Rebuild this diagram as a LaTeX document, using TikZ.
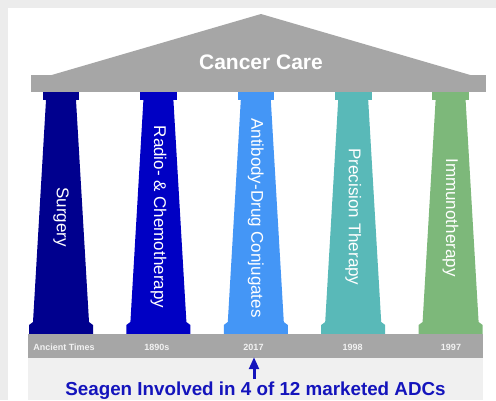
\documentclass[tikz,border=0pt]{standalone}
\usepackage{fontspec}
\setmainfont{Liberation Sans}
\usetikzlibrary{arrows.meta}
\definecolor{pagegrey}{HTML}{ECECEC}
\definecolor{lowgrey}{HTML}{F0F0F0}
\definecolor{stone}{HTML}{A6A6A6}
\definecolor{colA}{HTML}{00008E}
\definecolor{colB}{HTML}{0000C4}
\definecolor{colC}{HTML}{4496F6}
\definecolor{colD}{HTML}{59B9B8}
\definecolor{colE}{HTML}{7DB87A}
\definecolor{datetxt}{HTML}{F2F2F2}
\definecolor{seablue}{HTML}{1414BC}
\tikzset{
  pillarlabel/.style={text=white, rotate=-90, font=\fontsize{17}{17}\selectfont, inner sep=0pt},
  datelabel/.style={text=datetxt, font=\bfseries\fontsize{9}{9}\selectfont, anchor=base, inner sep=0pt},
}
\newcommand{\pillar}[2]{%
  \fill[#2] (#1-18.3,92) rectangle (#1+18.3,100);
  \fill[#2] (#1-15,100) -- (#1+15,100) -- (#1+28,322) -- (#1+32,325) -- (#1+32,334)
    -- (#1-32,334) -- (#1-32,325) -- (#1-28,322) -- cycle;
}
\begin{document}
\begin{tikzpicture}[x=1pt,y=-1pt]
\useasboundingbox (0,0) rectangle (496,400);
\fill[pagegrey] (0,0) rectangle (496,400);
\fill[white] (8,8) rectangle (496,400);
\fill[lowgrey] (28,358) rectangle (483,400);
% roof
\fill[stone] (50,75.5) -- (261,14) -- (472,75.5) -- cycle;
\fill[stone] (31,75) rectangle (486,92);
\node[text=white, font=\bfseries\fontsize{21}{21}\selectfont, anchor=base, inner sep=0pt] (roof) at (261,69) {Cancer Care};
% pillars
\pillar{61}{colA}
\pillar{158.4}{colB}
\pillar{255.8}{colC}
\pillar{353.2}{colD}
\pillar{450.6}{colE}
\node[pillarlabel] (surgery) at (61,217) {Surgery};
\node[pillarlabel] (radio) at (158.4,217) {Radio- \& Chemotherapy};
\node[pillarlabel] (adc) at (255.8,218) {Antibody-Drug Conjugates};
\node[pillarlabel] (precision) at (353.2,217) {Precision Therapy};
\node[pillarlabel] (immuno) at (450.6,217.5) {Immunotherapy};
% date bar
\fill[stone] (28,334) rectangle (483,358);
\coordinate (barbottom) at (254,357);
\node[datelabel] (d1) at (64,350) {Ancient Times};
\node[datelabel] (d2) at (156.8,350) {1890s};
\node[datelabel] (d3) at (253.5,350) {2017};
\node[datelabel] (d4) at (352.7,350) {1998};
\node[datelabel] (d5) at (451,350) {1997};
% bottom text and arrow
\node[text=seablue, font=\bfseries\fontsize{18.8}{18.8}\selectfont, anchor=base, inner sep=0pt] (seagen) at (255.5,395) {Seagen Involved in 4 of 12 marketed ADCs};
\coordinate (arrowtail) at (254,379);
\draw[seablue, line width=3pt, -{Triangle[length=12pt,width=9.5pt]}] (arrowtail) -- (barbottom);
\end{tikzpicture}
\end{document}
